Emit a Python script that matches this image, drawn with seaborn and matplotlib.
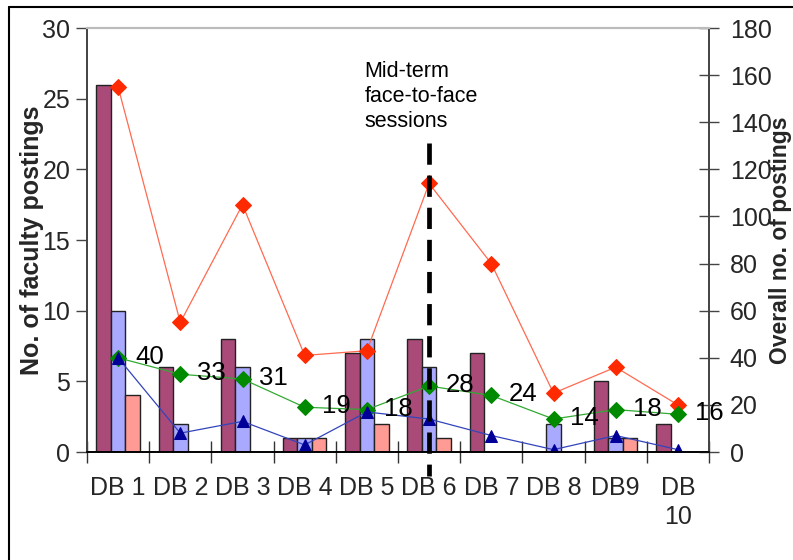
import numpy as np
import pandas as pd
import matplotlib
matplotlib.use("Agg")
import matplotlib.pyplot as plt
from matplotlib.lines import Line2D
import seaborn as sns

sns.set_theme(style="white")
plt.rcParams["font.family"] = ["Liberation Sans", "DejaVu Sans"]

# Discussion boards
boards = ["DB 1", "DB 2", "DB 3", "DB 4", "DB 5", "DB 6", "DB 7", "DB 8", "DB9", "DB\n10"]

# Faculty postings per board (left axis)
faculty_a = [26, 6, 8, 1, 7, 8, 7, 0, 5, 2]
faculty_b = [10, 2, 6, 1, 8, 6, 0, 2, 1, 0]
faculty_c = [4, 0, 0, 1, 2, 1, 0, 0, 1, 0]

# Overall postings per board (right axis)
overall_red = [155, 55, 105, 41, 43, 114, 80, 25, 36, 20]
overall_green = [40, 33, 31, 19, 18, 28, 24, 14, 18, 16]
overall_blue = [40, 8, 13, 3, 17, 14, 7, 1, 7, 1]

bar_names = ["A", "B", "C"]
bar_colors = ["#A94A78", "#A9AAFF", "#FF9A94"]

bars = pd.DataFrame({
    "board": boards * 3,
    "series": np.repeat(bar_names, len(boards)),
    "count": faculty_a + faculty_b + faculty_c,
})

fig = plt.figure(figsize=(7.93, 5.60), dpi=100)
ax = fig.add_axes([87 / 793, 1 - 452 / 560, (709 - 87) / 793, (452 - 28) / 560])

sns.barplot(data=bars, x="board", y="count", hue="series", order=boards,
            hue_order=bar_names, palette=bar_colors, width=0.7, gap=0,
            edgecolor="#222222", linewidth=1.0, saturation=1, legend=False,
            errorbar=None, ax=ax)

ax.set_ylim(0, 30)
ax.set_yticks(np.arange(0, 31, 5))
ax.set_xlim(-0.5, len(boards) - 0.5)
ax.set_xlabel("")
ax.set_ylabel("No. of faculty postings", fontsize=18, fontweight="bold", labelpad=-1)

ax2 = ax.twinx()
line_specs = [
    (overall_red, "#FF2A00", "#FF6A50", "D"),
    (overall_green, "#008A00", "#33AA33", "D"),
    (overall_blue, "#000099", "#3344BB", "^"),
]
pos = np.arange(len(boards))
for values, mcolor, lcolor, marker in line_specs:
    sns.lineplot(x=pos, y=values, ax=ax2, color=lcolor, linewidth=0.9,
                 marker=marker, markersize=8.5, markerfacecolor=mcolor,
                 markeredgecolor=mcolor, legend=False)

# value labels beside the green series
for i, v in enumerate(overall_green):
    ax2.annotate(str(v), (pos[i], v), xytext=(17, 1), textcoords="offset pixels",
                 ha="left", va="center", fontsize=18.5, color="black", zorder=6)

ax2.set_ylim(0, 180)
ax2.set_yticks(np.arange(0, 181, 20))
ax2.set_xlim(-0.5, len(boards) - 0.5)
ax2.set_ylabel("Overall no. of postings", fontsize=16.5, fontweight="bold",
               rotation=90, va="center", ha="center")
ax2.yaxis.set_label_coords((781 - 87) / (709 - 87), 0.5)

# mid-term marker
ax2.plot([5, 5], [131, -10], color="black", linewidth=3.4, linestyle=(0, (4.5, 2.3)),
         clip_on=False, zorder=7)
ax2.text(3.96, 166, "Mid-term\nface-to-face\nsessions", fontsize=15.5, ha="left",
         va="top", linespacing=1.25, color="black")

# ticks: labels at centres, tick marks at category boundaries
ax.set_xticks(pos)
ax.set_xticklabels(boards, fontsize=18, linespacing=1.3)
ax.set_xticks(np.arange(-0.5, len(boards), 1.0), minor=True)
ax.tick_params(axis="x", which="major", length=0, pad=17)
ax.tick_params(axis="x", which="minor", direction="inout", length=16, width=1,
               color="#333333", bottom=True)
ax.tick_params(axis="y", direction="out", length=8, width=1, color="#444444",
               labelsize=18, pad=4, left=True)
ax2.tick_params(axis="y", direction="inout", length=14, width=1, color="#444444",
                labelsize=18, pad=8, right=True)
ax2.tick_params(axis="x", length=0)

for a in (ax, ax2):
    a.spines["left"].set_color("#444444")
    a.spines["right"].set_color("#444444")
    a.spines["bottom"].set_color("black")
    a.spines["top"].set_color("#BBBBBB")
    a.spines["top"].set_linewidth(1.5)
    a.spines["bottom"].set_linewidth(1.2)
ax.grid(False)
ax2.grid(False)

# figure frame
fig.add_artist(Line2D([9 / 793, 1], [1 - 7 / 560, 1 - 7 / 560], color="black",
                      linewidth=1.5, transform=fig.transFigure))
fig.add_artist(Line2D([9 / 793, 9 / 793], [0, 1 - 7 / 560], color="black",
                      linewidth=1.5, transform=fig.transFigure))

fig.savefig("out.png", dpi=100)
